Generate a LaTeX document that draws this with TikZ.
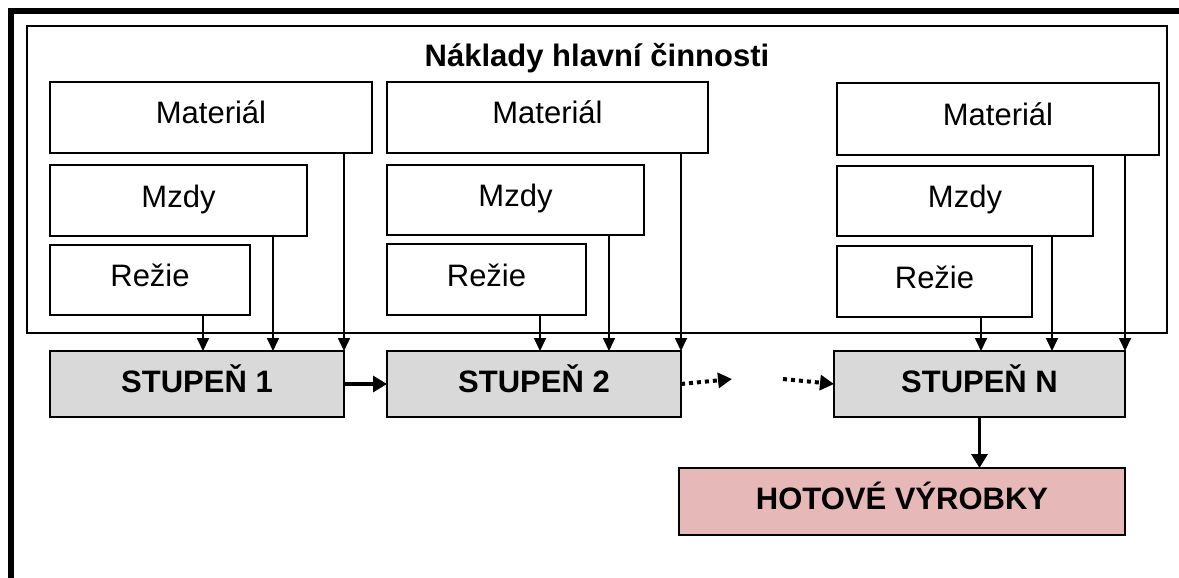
\documentclass[tikz,border=0pt]{standalone}
\usepackage{fontspec}
\setmainfont{Liberation Sans}
\usetikzlibrary{arrows.meta}
\definecolor{stagegray}{HTML}{D9D9D9}
\definecolor{finpink}{HTML}{E6B8B7}
\begin{document}
\begin{tikzpicture}[x=1pt,y=-1pt,
  every node/.style={inner sep=0pt, outer sep=0pt},
  costbox/.style={draw, line width=2.3pt, fill=white, anchor=north west,
    font=\fontsize{31pt}{36pt}\selectfont, text height=22.3pt, text depth=9.3pt},
  stagebox/.style={draw, line width=2.3pt, fill=stagegray, anchor=north west,
    font=\fontsize{31pt}{36pt}\selectfont\bfseries, text height=22.3pt, text depth=6.2pt},
  thinarr/.style={line width=1.7pt, -{Triangle[width=12pt,length=13pt]}},
  thickarr/.style={line width=3.2pt, -{Triangle[width=16pt,length=14pt]}},
  dotarr/.style={line width=4pt, dash pattern=on 4pt off 4pt, -{Triangle[width=15pt,length=14pt]}}
]
\useasboundingbox (0,0) rectangle (1179,578);
% outer frame (cropped)
\draw[line width=6pt] (10.5,578) -- (10.5,11.5) -- (1179,11.5);
% inner frame
\node[draw, line width=2.5pt, anchor=north west, minimum width=1140pt, minimum height=307pt] (frame) at (27,26) {};
\node[font=\fontsize{31pt}{36pt}\selectfont\bfseries] (title) at (597,58) {Náklady hlavní činnosti};

% column 1
\node[costbox, minimum width=322pt, minimum height=71pt] (m1) at (50,82) {Materiál};
\node[costbox, minimum width=257pt, minimum height=71pt] (z1) at (50,165) {Mzdy};
\node[costbox, minimum width=200pt, minimum height=70pt] (r1) at (50,245) {Režie};
\node[stagebox, minimum width=294pt, minimum height=66pt] (s1) at (50,351) {STUPEŇ 1};

% column 2
\node[costbox, minimum width=321pt, minimum height=71pt] (m2) at (387,82) {Materiál};
\node[costbox, minimum width=257pt, minimum height=70pt] (z2) at (387,165) {Mzdy};
\node[costbox, minimum width=199pt, minimum height=71pt] (r2) at (387,244) {Režie};
\node[stagebox, minimum width=294pt, minimum height=66pt] (s2) at (387,351) {STUPEŇ 2};

% column N
\node[costbox, minimum width=322pt, minimum height=72pt] (mN) at (837,83) {Materiál};
\node[costbox, minimum width=256pt, minimum height=70pt] (zN) at (837,166) {Mzdy};
\node[costbox, minimum width=195pt, minimum height=71pt] (rN) at (837,246) {Režie};
\node[stagebox, minimum width=291pt, minimum height=66pt] (sN) at (834,351) {STUPEŇ N};

\node[stagebox, fill=finpink, minimum width=446pt, minimum height=67pt] (hot) at (679,468) {HOTOVÉ VÝROBKY};

% cost arrows
\foreach \c/\ro/\zo in {1/153/223, 2/153/222, N/144/215}{
  \draw[thinarr] ([xshift=\ro pt]r\c.south west) coordinate (t) -- (t |- s\c.north);
  \draw[thinarr] ([xshift=\zo pt]z\c.south west) coordinate (t) -- (t |- s\c.north);
  \draw[thinarr] (m\c.south -| s\c.north east) -- (s\c.north east);
}

% flow arrows
\coordinate (d1) at (732,379);
\coordinate (d2) at (783,379);
\draw[thickarr] (s1.east) -- (s2.west);
\draw[dotarr] (s2.east) -- (d1);
\draw[dotarr] (d2) -- (sN.west);
\draw[thickarr] (sN.south) -- (sN.south |- hot.north);
\end{tikzpicture}
\end{document}
